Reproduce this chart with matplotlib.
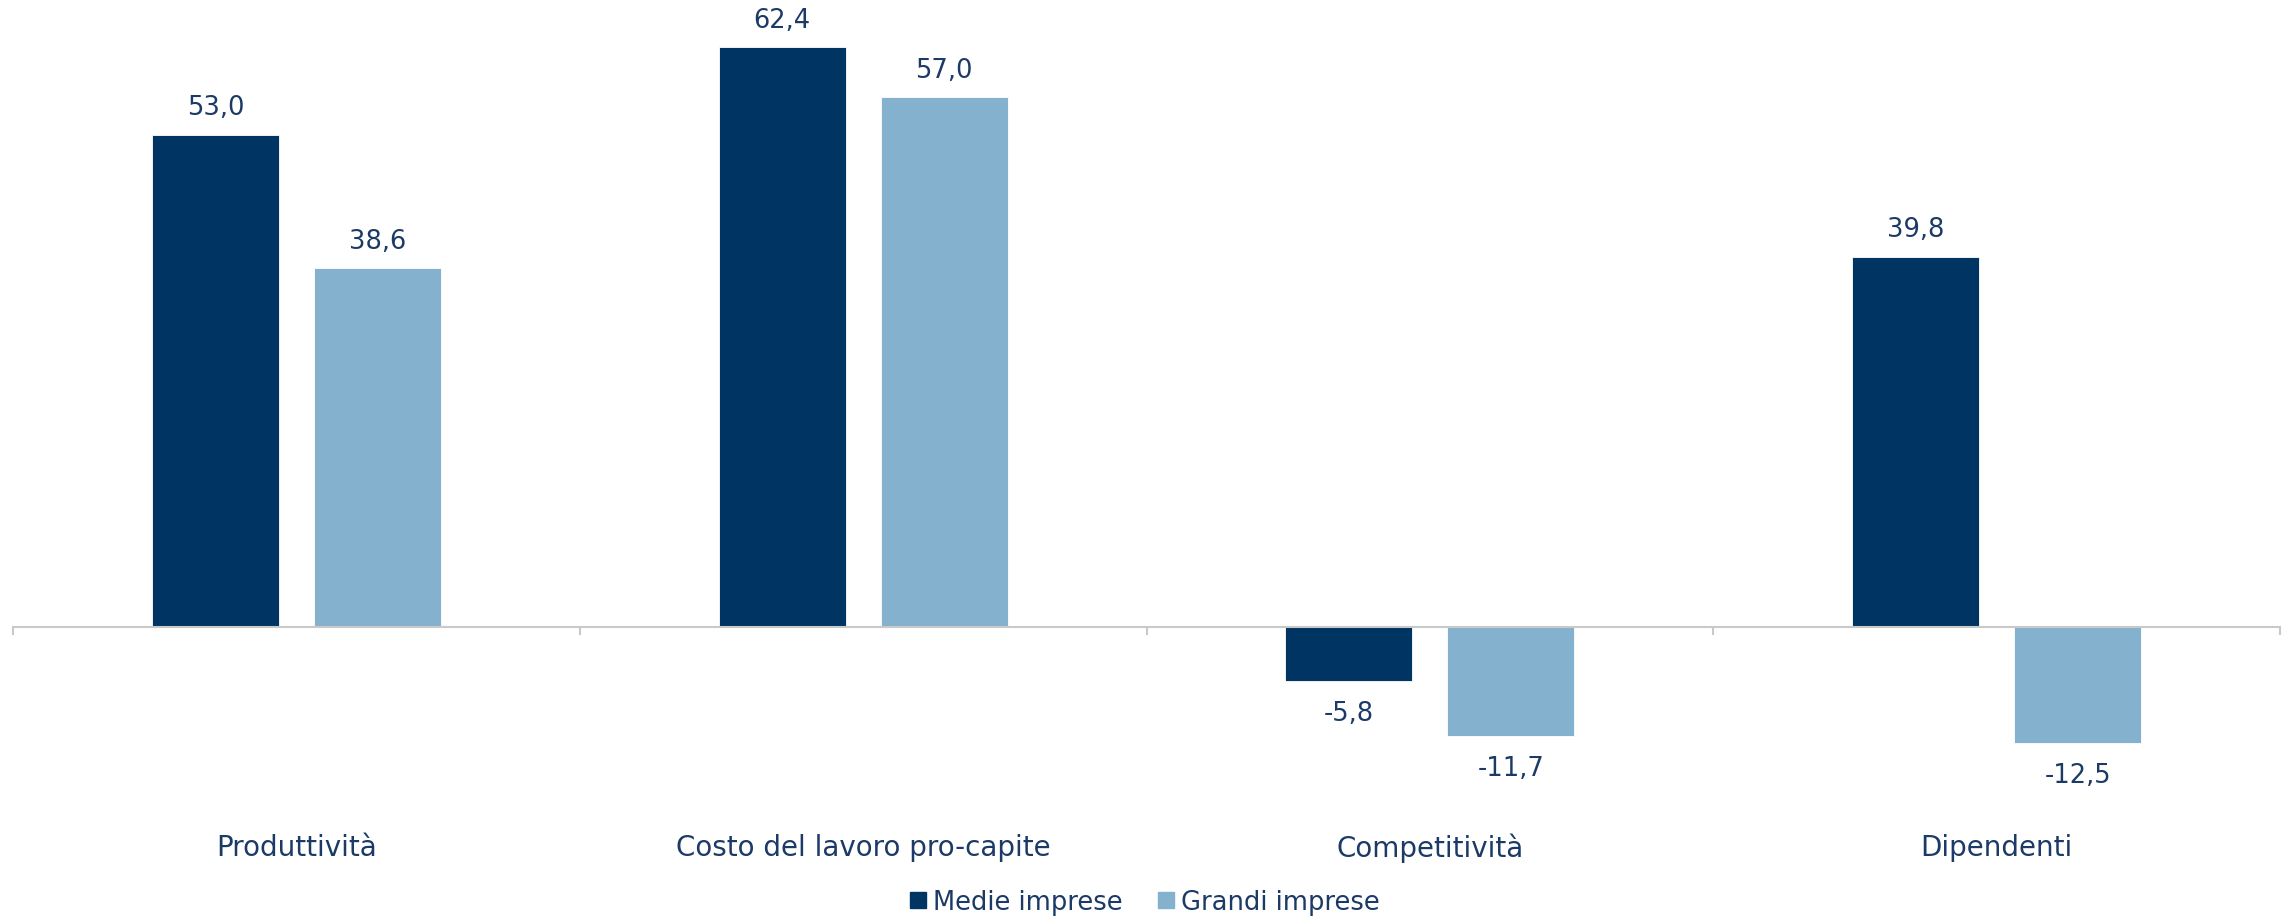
import matplotlib
matplotlib.use("Agg")
import matplotlib.pyplot as plt
import numpy as np
from matplotlib.lines import Line2D

categories = ["Produttività", "Costo del lavoro pro-capite", "Competitività", "Dipendenti"]
series_names = ["Medie imprese", "Grandi imprese"]
medie = [53.0, 62.4, -5.8, 39.8]
grandi = [38.6, 57.0, -11.7, -12.5]

colors = ["#003462", "#84B1CE"]
text_color = "#1b3a66"
plt.rcParams['font.family'] = ['DejaVu Sans']

fig = plt.figure(figsize=(22.88, 9.2), dpi=100)
ax = fig.add_axes([13/2288, 0.1154, (2280-13)/2288, 0.8846])

x = np.arange(len(categories))
w = 0.224
off = 0.143
for vals, c, sign in [(medie, colors[0], -1), (grandi, colors[1], 1)]:
    bars = ax.bar(x + sign*off, vals, width=w, color=c, edgecolor='white', linewidth=0.6)
    for b, v in zip(bars, vals):
        dy = 20 if v >= 0 else -23
        ax.annotate(f"{v:.1f}".replace('.', ','), (b.get_x() + b.get_width()/2, v),
                    xytext=(0, dy), textcoords='offset points', ha='center', va='center',
                    fontsize=18.5, color=text_color)

ax.set_xlim(-0.5, 3.5)
ax.set_ylim(-20, 67.6)
for s in ['top', 'right', 'left']:
    ax.spines[s].set_visible(False)
ax.spines['bottom'].set_position(('data', 0))
ax.spines['bottom'].set_color('#c9c9c9')
ax.spines['bottom'].set_linewidth(1.5)
ax.set_yticks([])
ax.set_xticks(x)
ax.set_xticklabels(categories, fontsize=20, color=text_color)
ax.set_xticks(np.arange(-0.5, 4.0, 1.0), minor=True)
ax.tick_params(axis='x', which='major', length=0, pad=148)
ax.tick_params(axis='x', which='minor', length=6, width=1.5, color='#c9c9c9')

handles = [Line2D([0], [0], marker='s', linestyle='none', markersize=11,
                  markerfacecolor=c, markeredgecolor=c) for c in colors]
fig.legend(handles, series_names, loc='center', bbox_to_anchor=(0.5, 1 - 903/920),
           ncol=2, frameon=False, fontsize=18.5, labelcolor=text_color,
           handletextpad=0.17, columnspacing=1.3, handlelength=0.8)

fig.savefig("out.png", dpi=100)
